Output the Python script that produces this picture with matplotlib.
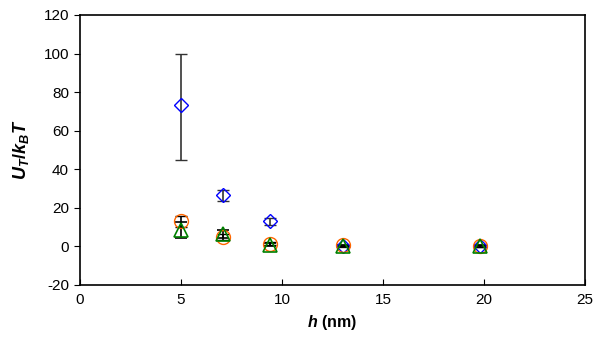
import matplotlib
matplotlib.use("Agg")
import matplotlib.pyplot as plt

plt.rcParams['font.family'] = ['Liberation Sans', 'DejaVu Sans']
plt.rcParams['axes.unicode_minus'] = False
plt.rcParams['mathtext.fontset'] = 'custom'
plt.rcParams['mathtext.rm'] = 'Liberation Sans'
plt.rcParams['mathtext.it'] = 'Liberation Sans:italic'
plt.rcParams['mathtext.bf'] = 'Liberation Sans:bold'
plt.rcParams['mathtext.bfit'] = 'Liberation Sans:italic:bold'

h = [5.0, 7.1, 9.4, 13.0, 19.8]
blue = [73.5, 26.5, 13.0, 0.0, 0.0]
blue_lo = [28.5, 3.0, 2.0, 0.5, 0.5]
blue_hi = [26.5, 3.0, 2.0, 0.5, 0.5]
orange = [13.0, 5.0, 1.5, 0.5, 0.0]
orange_err = [3.0, 1.5, 1.0, 0.5, 0.5]
green = [8.5, 6.5, 1.0, 0.0, 0.0]
green_err = [4.0, 2.0, 1.0, 0.5, 0.5]

fig = plt.figure(figsize=(5.95, 3.38), dpi=100)
ax = fig.add_axes([80/595, 1-285/338, (585-80)/595, (285-15)/338])

ax.errorbar(h, blue, yerr=[blue_lo, blue_hi], fmt='D', mfc='none', mec='#0000ff',
            mew=1.0, ms=7.5, ecolor='#333333', elinewidth=1.2, capsize=4, capthick=1.2, zorder=3)
ax.errorbar(h, orange, yerr=orange_err, fmt='o', mfc='none', mec='#ff6600',
            mew=1.0, ms=10, ecolor='black', elinewidth=1.2, capsize=4, capthick=1.2, zorder=3)
ax.errorbar(h, green, yerr=green_err, fmt='^', mfc='none', mec='#008000',
            mew=1.2, ms=10, ecolor='black', elinewidth=1.2, capsize=4, capthick=1.2, zorder=3)

ax.set_xlim(0, 25)
ax.set_ylim(-20, 120)
ax.set_xticks([0, 5, 10, 15, 20, 25])
ax.set_yticks(range(-20, 121, 20))
ax.tick_params(axis='x', direction='in', length=4, labelsize=11, pad=6)
ax.tick_params(axis='y', direction='out', length=4, labelsize=11, pad=4)
for s in ax.spines.values():
    s.set_linewidth(1.2)

ax.set_xlabel(r'$\boldsymbol{h}$ (nm)', fontsize=11.5, fontweight='bold', labelpad=4)
ax.set_ylabel(r'$\boldsymbol{U}_{\boldsymbol{T}}\boldsymbol{/k}_{\boldsymbol{B}}\boldsymbol{T}$',
              fontsize=13, labelpad=9)

fig.savefig('out.png', dpi=100)
